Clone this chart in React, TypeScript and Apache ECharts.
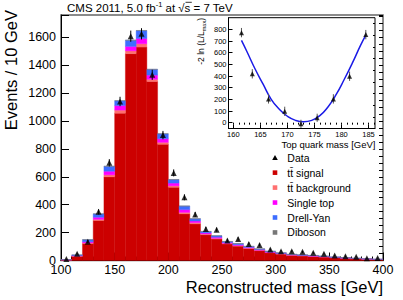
import React, { useEffect, useRef } from 'react';
import * as echarts from 'echarts';

// ---- Main histogram data (10 GeV bins, lower edges) ----
const binEdges = [100, 110, 120, 130, 140, 150, 160, 170, 180, 190, 200, 210, 220, 230, 240, 250, 260, 270, 280, 290, 300, 310, 320, 330, 340, 350, 360, 370, 380, 390];
const BIN_WIDTH = 10;
const ttSignal = [4, 30, 121, 287, 600, 1056, 1483, 1530, 1283, 833, 525, 335, 263, 185, 154, 119, 103, 86, 71, 56, 46, 37, 33, 29, 25, 20, 16, 13, 9, 7];
const ttBackground = [0.5, 2, 5, 8, 14, 22, 20, 24, 16, 14, 10, 10, 8, 5, 5, 4, 4, 3, 3, 2, 2, 2, 2, 2, 1, 1, 1, 1, 1, 0.5];
const singleTop = [0.5, 3, 8, 15, 26, 33, 32, 38, 30, 26, 20, 20, 12, 8, 8, 6, 6, 5, 4, 3, 3, 2, 2, 2, 2, 2, 1, 1, 1, 0.5];
const drellYan = [1, 5, 15, 24, 35, 34, 44, 56, 41, 35, 25, 25, 16, 10, 10, 7, 8, 7, 5, 5, 4, 3, 3, 3, 3, 2, 2, 1, 1, 1];
const diboson = [0, 0, 1, 1, 1, 1, 1, 1, 1, 1, 1, 1, 1, 1, 1, 1, 1, 1, 0.5, 0.5, 0.5, 0.5, 0.5, 0.5, 0.5, 0.3, 0.3, 0.3, 0.2, 0.2];
const dataCounts = [10, 48, 135, 349, 700, 1140, 1608, 1625, 1331, 899, 628, 453, 330, 226, 221, 144, 154, 119, 112, 78, 66, 66, 62, 55, 48, 36, 31, 26, 16, 18];

const xTickLabels = [100, 150, 200, 250, 300, 350, 400];
const yTickLabels = [0, 200, 400, 600, 800, 1000, 1200, 1400, 1600];

// ---- Inset data ----
const insetMass = [161.5, 163.5, 166.5, 169.5, 172.5, 175.5, 178.5, 181.5, 184.5];
const insetNll = [772, 419, 204, 97, -10, 42, 204, 398, 755];
const insetErr = [40, 40, 40, 40, 35, 35, 40, 40, 40];
const fitMass = [161.5, 162.5, 164, 165.5, 167, 168.5, 170, 171.5, 173, 174.5, 176, 177.5, 179, 180.5, 182, 183.5, 184.5];
const fitNll = [705, 610, 462, 330, 200, 115, 55, 20, 8, 20, 60, 135, 240, 370, 510, 660, 750];
const insetXTicks = [160, 165, 170, 175, 180, 185];
const insetYTicks = [0, 100, 200, 300, 400, 500, 600, 700, 800];

const COLORS = {
  signal: '#cc0000',
  ttbg: '#ff7070',
  singleTop: '#ff00ff',
  dy: '#3d6dff',
  diboson: '#777777',
};

const FONT = 'Liberation Sans, Arial, Helvetica, sans-serif';

export default function App() {
  const ref = useRef<HTMLDivElement>(null);

  useEffect(() => {
    if (!ref.current) return;
    const chart = echarts.init(ref.current, undefined, { renderer: 'svg' });

    const components = [
      { name: 'tt̄ signal', color: COLORS.signal, values: ttSignal },
      { name: 'tt̄ background', color: COLORS.ttbg, values: ttBackground },
      { name: 'Single top', color: COLORS.singleTop, values: singleTop },
      { name: 'Drell-Yan', color: COLORS.dy, values: drellYan },
      { name: 'Diboson', color: COLORS.diboson, values: diboson },
    ];
    const cum = binEdges.map(() => 0);
    const stackSeries = components.map((c) => {
      const data = binEdges.map((e, i) => {
        const bottom = cum[i];
        const top = bottom + c.values[i];
        cum[i] = top;
        return [e, e + BIN_WIDTH, bottom, top];
      });
      return {
        type: 'custom',
        name: c.name,
        xAxisIndex: 0,
        yAxisIndex: 0,
        silent: true,
        itemStyle: { color: c.color },
        encode: { x: [0, 1], y: [2, 3] },
        data,
        renderItem: (params: any, api: any) => {
          const p0 = api.coord([api.value(0), api.value(3)]);
          const p1 = api.coord([api.value(1), api.value(2)]);
          return {
            type: 'rect',
            shape: { x: p0[0], y: p0[1], width: p1[0] - p0[0], height: p1[1] - p0[1] },
            style: { fill: c.color, stroke: c.color, lineWidth: 0.4 },
          };
        },
      };
    });

    const binCenters = binEdges.map((e) => e + BIN_WIDTH / 2);
    const errData = binCenters.map((x, i) => {
      const e = Math.sqrt(dataCounts[i]);
      return [x, dataCounts[i] - e, dataCounts[i] + e];
    });
    const insetErrData = insetMass.map((m, i) => [m, insetNll[i] - insetErr[i], insetNll[i] + insetErr[i]]);

    const errRender = (color: string) => (params: any, api: any) => {
      const a = api.coord([api.value(0), api.value(1)]);
      const b = api.coord([api.value(0), api.value(2)]);
      return {
        type: 'line',
        shape: { x1: a[0], y1: a[1], x2: b[0], y2: b[1] },
        style: { stroke: color, lineWidth: 1 },
      };
    };

    const legendItems = [
      { name: 'Data', color: '#000', kind: 'tri' },
      { name: 'tt̄ signal', color: COLORS.signal, kind: 'sq' },
      { name: 'tt̄ background', color: COLORS.ttbg, kind: 'sq' },
      { name: 'Single top', color: COLORS.singleTop, kind: 'sq' },
      { name: 'Drell-Yan', color: COLORS.dy, kind: 'sq' },
      { name: 'Diboson', color: COLORS.diboson, kind: 'sq' },
    ];
    const legendGraphics: any[] = [];
    legendItems.forEach((it, i) => {
      const cy = 157.7 + i * 14.95;
      const cx = 275;
      if (it.kind === 'tri') {
        legendGraphics.push({
          type: 'polygon',
          shape: { points: [[cx, cy - 2.8], [cx + 2.8, cy + 2.2], [cx - 2.8, cy + 2.2]] },
          style: { fill: '#000' },
        });
      } else {
        legendGraphics.push({
          type: 'rect',
          shape: { x: cx - 2.3, y: cy - 2.3, width: 4.6, height: 4.6 },
          style: { fill: it.color },
        });
      }
      legendGraphics.push({
        type: 'text',
        x: 287.3,
        y: cy,
        style: { text: it.name, fontSize: 10.5, fontFamily: FONT, fill: '#000', verticalAlign: 'middle', align: 'left' },
      });
    });

    const minorInsetX: number[] = [];
    for (let v = 160; v <= 186; v++) minorInsetX.push(v);
    const minorInsetY: number[] = [];
    for (let v = 50; v <= 850; v += 100) minorInsetY.push(v);

    const option: any = {
      animation: false,
      backgroundColor: '#fff',
      grid: [
        { left: 61, top: 15, width: 322, height: 245.5, show: true, borderColor: '#666', borderWidth: 1.5, backgroundColor: 'transparent' },
        { left: 228.5, top: 17.7, width: 146.5, height: 110.8, show: true, borderColor: '#000', borderWidth: 1, backgroundColor: 'transparent' },
      ],
      xAxis: [
        {
          type: 'value', gridIndex: 0, min: 100, max: 400, interval: 50,
          axisLine: { show: true, onZero: false, lineStyle: { color: '#000', width: 1 } },
          axisTick: { show: true, inside: true, length: 8, lineStyle: { color: '#000' } },
          minorTick: { show: true, splitNumber: 5, length: 4, lineStyle: { color: '#000' } },
          splitLine: { show: false },
          axisLabel: { customValues: xTickLabels, fontSize: 12.5, color: '#000', fontFamily: FONT, margin: 3, formatter: (v: number) => String(v) },
        },
        {
          type: 'value', gridIndex: 1, min: 159.1, max: 186.2,
          axisLine: { show: true, onZero: false, lineStyle: { color: '#000', width: 1 } },
          axisTick: { show: true, inside: true, length: 4, customValues: insetXTicks, lineStyle: { color: '#000' } },
          splitLine: { show: false },
          axisLabel: { customValues: insetXTicks, fontSize: 7.5, color: '#000', fontFamily: FONT, margin: 2, formatter: (v: number) => String(v) },
        },
        {
          type: 'value', gridIndex: 1, min: 159.1, max: 186.2,
          axisLine: { show: false },
          axisTick: { show: true, inside: true, length: 2, customValues: minorInsetX, lineStyle: { color: '#000' } },
          splitLine: { show: false },
          axisLabel: { show: false },
        },
      ],
      yAxis: [
        {
          type: 'value', gridIndex: 0, min: 0, max: 1760, interval: 200,
          axisLine: { show: true, onZero: false, lineStyle: { color: '#000', width: 1 } },
          axisTick: { show: true, inside: true, length: 8, lineStyle: { color: '#000' } },
          splitLine: { show: false },
          axisLabel: { customValues: yTickLabels, fontSize: 12.5, color: '#000', fontFamily: FONT, margin: 5, formatter: (v: number) => String(v) },
        },
        {
          type: 'value', gridIndex: 0, min: 0, max: 1760, interval: 50,
          axisLine: { show: false },
          axisTick: { show: true, inside: true, length: 4, lineStyle: { color: '#000' } },
          splitLine: { show: false },
          axisLabel: { show: false },
        },
        {
          type: 'value', gridIndex: 1, min: -50, max: 900,
          axisLine: { show: true, onZero: false, lineStyle: { color: '#000', width: 1 } },
          axisTick: { show: true, inside: true, length: 4, customValues: insetYTicks, lineStyle: { color: '#000' } },
          splitLine: { show: false },
          axisLabel: { customValues: insetYTicks, fontSize: 7.5, color: '#000', fontFamily: FONT, margin: 2, formatter: (v: number) => String(v) },
        },
        {
          type: 'value', gridIndex: 1, min: -50, max: 900,
          axisLine: { show: false },
          axisTick: { show: true, inside: true, length: 2, customValues: minorInsetY, lineStyle: { color: '#000' } },
          splitLine: { show: false },
          axisLabel: { show: false },
        },
      ],
      series: [
        ...stackSeries,
        {
          type: 'custom', name: 'DataErr', xAxisIndex: 0, yAxisIndex: 0, silent: true,
          encode: { x: 0, y: [1, 2] }, data: errData, renderItem: errRender('#000'), z: 5,
        },
        {
          type: 'scatter', name: 'Data', xAxisIndex: 0, yAxisIndex: 0, symbol: 'triangle', symbolSize: 6,
          itemStyle: { color: '#000' }, data: binCenters.map((x, i) => [x, dataCounts[i]]), z: 6, silent: true,
        },
        {
          type: 'line', name: 'Fit', xAxisIndex: 1, yAxisIndex: 2, smooth: true, showSymbol: false, silent: true,
          lineStyle: { color: '#1a1ae6', width: 1.5 }, data: fitMass.map((m, i) => [m, fitNll[i]]), z: 4,
        },
        {
          type: 'custom', name: 'InsetErr', xAxisIndex: 1, yAxisIndex: 2, silent: true,
          encode: { x: 0, y: [1, 2] }, data: insetErrData, renderItem: errRender('#555'), z: 5,
        },
        {
          type: 'scatter', name: 'Inset', xAxisIndex: 1, yAxisIndex: 2, symbol: 'triangle', symbolSize: 5,
          itemStyle: { color: '#000' }, data: insetMass.map((m, i) => [m, insetNll[i]]), z: 6, silent: true,
        },
      ],
      graphic: [
        {
          type: 'text', x: 67, y: 7.5,
          style: {
            text: '{a|CMS 2011, 5.0 fb}{s|-1}{a| at √s = 7 TeV}',
            rich: {
              a: { fontSize: 11.5, fontFamily: FONT, fill: '#000', lineHeight: 14 },
              s: { fontSize: 7.5, fontFamily: FONT, fill: '#000', lineHeight: 8, verticalAlign: 'top' },
            },
            verticalAlign: 'middle', align: 'left',
          },
        },
        {
          type: 'line', shape: { x1: 185.5, y1: 2.3, x2: 191.8, y2: 2.3 }, style: { stroke: '#000', lineWidth: 0.8 },
        },
        {
          type: 'text', x: 11, y: 10, rotation: Math.PI / 2,
          style: { text: 'Events / 10 GeV', fontSize: 16.5, fontFamily: FONT, fill: '#000', align: 'right', verticalAlign: 'middle' },
        },
        {
          type: 'text', x: 383, y: 286.8,
          style: { text: 'Reconstructed mass [GeV]', fontSize: 16.5, fontFamily: FONT, fill: '#000', align: 'right', verticalAlign: 'middle' },
        },
        {
          type: 'text', x: 375.5, y: 144.7,
          style: { text: 'Top quark mass [GeV]', fontSize: 9.5, fontFamily: FONT, fill: '#000', align: 'right', verticalAlign: 'middle' },
        },
        {
          type: 'text', x: 201, y: 18, rotation: Math.PI / 2,
          style: {
            text: '{a|-2 ln (L/L}{b|max}{a|)}',
            rich: {
              a: { fontSize: 8.5, fontFamily: FONT, fill: '#000', lineHeight: 11 },
              b: { fontSize: 5.5, fontFamily: FONT, fill: '#000', lineHeight: 6, verticalAlign: 'bottom' },
            },
            align: 'right', verticalAlign: 'middle',
          },
        },
        ...legendGraphics,
      ],
    };

    chart.setOption(option);
    return () => chart.dispose();
  }, []);

  return <div ref={ref} style={{ position: 'fixed', left: 0, top: 0, width: 403, height: 300 }} />;
}
